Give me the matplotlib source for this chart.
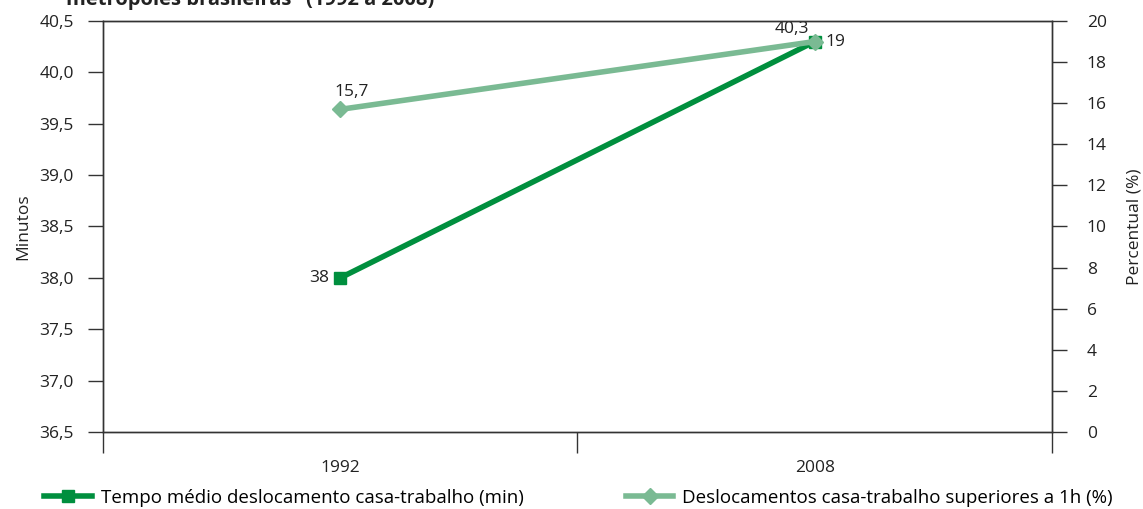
import numpy as np
import matplotlib.pyplot as plt
from matplotlib.lines import Line2D

plt.rcParams['font.family'] = ['Open Sans', 'DejaVu Sans']

# Data
anos = ['1992', '2008']
tempo_medio = [38.0, 40.3]          # minutos (eixo esquerdo)
desloc_1h = [15.7, 19.0]            # percentual (eixo direito)
rot_tempo = ['38', '40,3']
rot_desloc = ['15,7', '19']

verde_escuro = '#008f3e'
verde_claro = '#7aba93'
cinza = '#333333'
texto = '#222222'
fs = 12.5
fs_leg = 13.5

fig = plt.figure(figsize=(11.43, 5.09), dpi=100)
ax = fig.add_axes([103 / 1143, 1 - 432 / 509, (1052 - 103) / 1143, (432 - 21) / 509])
ax2 = ax.twinx()

x = np.array([0.5, 1.5])
ax.set_xlim(0, 2)
ax.set_ylim(36.5, 40.5)
ax2.set_ylim(0, 20)

ax.plot(x, tempo_medio, color=verde_escuro, lw=4, marker='s', ms=9, zorder=3)
ax2.plot(x, desloc_1h, color=verde_claro, lw=4, marker='D', ms=8, zorder=3)

# rótulos de valor
ax.annotate(rot_tempo[0], (x[0], tempo_medio[0]), xytext=(-8, 0), textcoords='offset points',
            ha='right', va='center', fontsize=fs, color=texto)
ax.annotate(rot_tempo[1], (x[1], tempo_medio[1]), xytext=(-4, 3), textcoords='offset points',
            ha='right', va='bottom', fontsize=fs, color=texto)
ax2.annotate(rot_desloc[0], (x[0], desloc_1h[0]), xytext=(-4, 7), textcoords='offset points',
             ha='left', va='bottom', fontsize=fs, color=texto)
ax2.annotate(rot_desloc[1], (x[1], desloc_1h[1]), xytext=(8, 0), textcoords='offset points',
             ha='left', va='center', fontsize=fs, color=texto)

# eixos
ax.set_yticks(np.arange(36.5, 40.51, 0.5))
ax.set_yticklabels([f'{v:.1f}'.replace('.', ',') for v in np.arange(36.5, 40.51, 0.5)])
ax2.set_yticks(np.arange(0, 21, 2))
ax.tick_params(axis='y', direction='out', length=11, width=1, color=cinza, labelsize=fs,
               pad=10, labelcolor=texto)
ax2.tick_params(axis='y', direction='out', length=11, width=1, color=cinza, labelsize=fs,
                pad=14, labelcolor=texto)

ax.set_xticks([0, 1, 2])
ax.set_xticklabels([])
ax.set_xticks(x, minor=True)
ax.set_xticklabels(anos, minor=True)
ax.tick_params(axis='x', which='major', direction='out', length=15, width=1, color=cinza)
ax.tick_params(axis='x', which='minor', length=0, pad=20, labelsize=fs, labelcolor=texto)

for a in (ax, ax2):
    for s in a.spines.values():
        s.set_color(cinza)
        s.set_linewidth(1)
ax.axhline(40.5, color='#666666', lw=1.5, zorder=1)

ax.set_ylabel('Minutos', fontsize=fs, color=texto, labelpad=6)
ax2.set_ylabel('Percentual (%)', fontsize=fs, color=texto, labelpad=14)

# título (parcialmente cortado no topo)
fig.text(66 / 1143, 1 - 5 / 509, 'metrópoles brasileiras" (1992 a 2008)', fontsize=14.5,
         fontweight='bold', color=texto, ha='left', va='baseline')

# legenda
h1 = Line2D([], [], color=verde_escuro, lw=4, marker='s', ms=9)
h2 = Line2D([], [], color=verde_claro, lw=4, marker='D', ms=8)
px = fs_leg * 100 / 72
fig.legend([h1], ['Tempo médio deslocamento casa-trabalho (min)'], loc='center left',
           bbox_to_anchor=(44 / 1143, 1 - 498 / 509), frameon=False, fontsize=fs_leg,
           handlelength=48 / px, handletextpad=9 / px, borderpad=0, borderaxespad=0)
fig.legend([h2], ['Deslocamentos casa-trabalho superiores a 1h (%)'], loc='center left',
           bbox_to_anchor=(626 / 1143, 1 - 498 / 509), frameon=False, fontsize=fs_leg,
           handlelength=47 / px, handletextpad=9 / px, borderpad=0, borderaxespad=0)

fig.savefig('out.png', dpi=100)
